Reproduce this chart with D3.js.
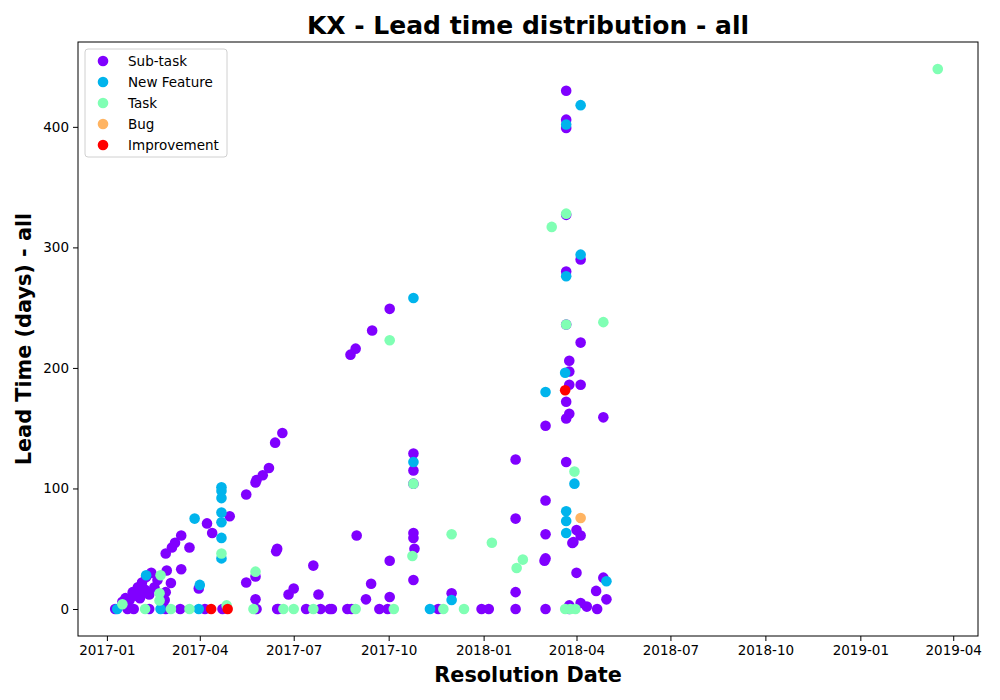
<!DOCTYPE html>
<html>
<head>
<meta charset="utf-8">
<script src="https://cdn.jsdelivr.net/npm/d3@7"></script>
<style>
  body { margin: 0; background: #fff; }
  text { font-family: "DejaVu Sans", sans-serif; }
</style>
</head>
<body>
<div id="chart"></div>
<script>
// issue types, drawn in this order
var categories = ["Sub-task", "New Feature", "Task", "Bug", "Improvement"];
var colors = ["#8000ff", "#00b4ec", "#80ffb4", "#ffb462", "#ff0000"];

// [resolution date, lead time in days]
var subTask = [
  ["2017-01-09", 0], ["2017-01-21", 0], ["2017-01-27", 0], ["2017-02-11", 0], ["2017-02-27", 0],
  ["2017-03-13", 0], ["2017-04-06", 0], ["2017-04-23", 0], ["2017-05-26", 0], ["2017-06-15", 0],
  ["2017-06-16", 0], ["2017-07-13", 0], ["2017-07-27", 0], ["2017-08-05", 0], ["2017-08-07", 0],
  ["2017-08-22", 0], ["2017-08-26", 0], ["2017-09-22", 0], ["2017-09-30", 0], ["2017-11-18", 0],
  ["2017-12-30", 0], ["2018-01-06", 0], ["2018-02-01", 0], ["2018-03-02", 0], ["2018-03-25", 0],
  ["2018-03-25", 3], ["2018-04-05", 5], ["2018-04-11", 2], ["2018-04-21", 0],
  ["2017-01-16", 6], ["2017-01-19", 9], ["2017-01-20", 3], ["2017-01-23", 7.5], ["2017-01-26", 14],
  ["2017-01-29", 11], ["2017-01-31", 18], ["2017-02-02", 9], ["2017-02-04", 22], ["2017-02-04", 13],
  ["2017-02-07", 16], ["2017-02-08", 26.5], ["2017-02-11", 12], ["2017-02-13", 30], ["2017-02-16", 18],
  ["2017-02-19", 24], ["2017-02-24", 3], ["2017-02-26", 7.5], ["2017-02-27", 46], ["2017-02-27", 14],
  ["2017-02-28", 32], ["2017-03-04", 21.6], ["2017-03-05", 51], ["2017-03-08", 55], ["2017-03-14", 61],
  ["2017-03-14", 33], ["2017-03-22", 51], ["2017-03-31", 17], ["2017-04-08", 71], ["2017-04-13", 63],
  ["2017-04-30", 77],
  ["2017-05-16", 95], ["2017-05-16", 22], ["2017-05-25", 105], ["2017-05-26", 107], ["2017-05-25", 27],
  ["2017-05-25", 8], ["2017-06-01", 111], ["2017-06-07", 117], ["2017-06-13", 138], ["2017-06-20", 146],
  ["2017-06-14", 48], ["2017-06-15", 50], ["2017-06-26", 12], ["2017-07-01", 17], ["2017-07-20", 36],
  ["2017-07-25", 12], ["2017-08-25", 211], ["2017-08-30", 216], ["2017-08-31", 61], ["2017-09-09", 8],
  ["2017-09-14", 21], ["2017-09-15", 231], ["2017-10-02", 249], ["2017-10-02", 40], ["2017-10-02", 10],
  ["2017-10-25", 129], ["2017-10-25", 115], ["2017-10-25", 104], ["2017-10-25", 63], ["2017-10-25", 59],
  ["2017-10-25", 24], ["2017-10-26", 50], ["2017-12-01", 13],
  ["2018-02-01", 124], ["2018-02-01", 75], ["2018-02-01", 14],
  ["2018-03-02", 152], ["2018-03-02", 90], ["2018-03-02", 62], ["2018-03-02", 42], ["2018-03-01", 40],
  ["2018-03-22", 430], ["2018-03-22", 406], ["2018-03-22", 399], ["2018-03-22", 327], ["2018-03-22", 280],
  ["2018-03-22", 236], ["2018-03-22", 172], ["2018-03-22", 158], ["2018-03-22", 122],
  ["2018-03-25", 206], ["2018-03-25", 197], ["2018-03-25", 186], ["2018-03-25", 162],
  ["2018-04-05", 290], ["2018-04-05", 221], ["2018-04-05", 186], ["2018-04-05", 61],
  ["2018-04-01", 65.5], ["2018-04-01", 30], ["2018-03-29", 55.5], ["2018-03-28", 54.7],
  ["2018-04-27", 159], ["2018-04-27", 26], ["2018-04-20", 15], ["2018-04-30", 8]
];

var newFeature = [
  ["2017-01-11", 0], ["2017-02-08", 28], ["2017-02-22", 0], ["2017-03-31", 0], ["2017-04-01", 20],
  ["2017-03-27", 75], ["2017-04-22", 101], ["2017-04-22", 98], ["2017-04-22", 92], ["2017-04-22", 80],
  ["2017-04-22", 72], ["2017-04-22", 59], ["2017-04-22", 42],
  ["2017-10-25", 258], ["2017-10-25", 122], ["2017-11-10", 0], ["2017-12-01", 7.5],
  ["2018-03-02", 180], ["2018-03-22", 402], ["2018-03-22", 276], ["2018-03-21", 196],
  ["2018-03-22", 81], ["2018-03-22", 73], ["2018-03-22", 63], ["2018-04-05", 418], ["2018-04-05", 294],
  ["2018-03-30", 104], ["2018-04-30", 23]
];

var task = [
  ["2017-01-16", 4], ["2017-02-07", 0], ["2017-02-22", 28], ["2017-02-21", 13], ["2017-02-21", 7],
  ["2017-03-04", 0], ["2017-03-22", 0], ["2017-04-22", 46], ["2017-04-27", 3], ["2017-05-23", 0],
  ["2017-05-25", 31], ["2017-06-21", 0], ["2017-07-01", 0], ["2017-07-20", 0], ["2017-08-30", 0],
  ["2017-10-02", 223], ["2017-10-06", 0], ["2017-10-25", 104], ["2017-10-24", 44], ["2017-11-23", 0],
  ["2017-12-01", 62], ["2017-12-13", 0], ["2018-01-09", 55], ["2018-02-08", 41], ["2018-02-02", 34],
  ["2018-03-08", 317], ["2018-03-22", 328], ["2018-03-22", 236], ["2018-03-30", 114], ["2018-04-27", 238],
  ["2018-03-21", 0], ["2018-03-26", 0], ["2018-03-31", 0], ["2019-03-17", 448]
];

var bug = [["2018-04-05", 75.5]];

var improvement = [["2017-04-12", 0], ["2017-04-28", 0], ["2018-03-21", 181.5]];

var series = [subTask, newFeature, task, bug, improvement];

var xTickDates = ["2017-01", "2017-04", "2017-07", "2017-10", "2018-01", "2018-04",
                  "2018-07", "2018-10", "2019-01", "2019-04"];
var yTicks = [0, 100, 200, 300, 400];

var svgWidth = 1000;
var svgHeight = 700;
var margin = { top: 42, right: 22, bottom: 64, left: 78 };
var chartWidth = svgWidth - margin.left - margin.right;
var chartHeight = svgHeight - margin.top - margin.bottom;

var parseDay = d3.timeParse("%Y-%m-%d");
var parseMonth = d3.timeParse("%Y-%m");

var svg = d3.select("#chart")
  .append("svg")
  .attr("width", svgWidth)
  .attr("height", svgHeight);

var chartGroup = svg.append("g")
  .attr("transform", `translate(${margin.left}, ${margin.top})`);

var xScale = d3.scaleTime()
  .domain([parseDay("2016-12-04"), parseDay("2019-04-25")])
  .range([0, chartWidth]);

var yScale = d3.scaleLinear()
  .domain([-22.4, 470.4])
  .range([chartHeight, 0]);

// axes
var xAxis = d3.axisBottom(xScale)
  .tickValues(xTickDates.map(parseMonth))
  .tickFormat(d3.timeFormat("%Y-%m"))
  .tickSize(5)
  .tickPadding(4);

var yAxis = d3.axisLeft(yScale)
  .tickValues(yTicks)
  .tickSize(5)
  .tickPadding(4);

var gx = chartGroup.append("g")
  .attr("transform", `translate(0, ${chartHeight})`)
  .call(xAxis);

var gy = chartGroup.append("g")
  .call(yAxis);

[gx, gy].forEach(g => {
  g.select(".domain").remove();
  g.selectAll("text").attr("font-size", 13.5).attr("fill", "#000").style("font-family", "DejaVu Sans, sans-serif");
  g.selectAll("line").attr("stroke", "#000");
});

// points
series.forEach((data, i) => {
  chartGroup.append("g")
    .selectAll("circle")
    .data(data)
    .enter()
    .append("circle")
    .attr("cx", d => xScale(parseDay(d[0])))
    .attr("cy", d => yScale(d[1]))
    .attr("r", 5.3)
    .attr("fill", colors[i]);
});

// frame
chartGroup.append("rect")
  .attr("width", chartWidth)
  .attr("height", chartHeight)
  .attr("fill", "none")
  .attr("stroke", "#000")
  .attr("stroke-width", 1);

// legend
var legend = chartGroup.append("g")
  .attr("transform", "translate(7, 7)");

legend.append("rect")
  .attr("width", 142)
  .attr("height", 108)
  .attr("rx", 3)
  .attr("fill", "#fff")
  .attr("fill-opacity", 0.8)
  .attr("stroke", "#d0d0d0");

categories.forEach((c, i) => {
  legend.append("circle")
    .attr("cx", 18)
    .attr("cy", 12 + i * 21)
    .attr("r", 5.3)
    .attr("fill", colors[i]);
  legend.append("text")
    .attr("x", 43)
    .attr("y", 12 + i * 21)
    .attr("dy", "0.35em")
    .attr("font-size", 13.5)
    .text(c);
});

// titles
svg.append("text")
  .attr("x", margin.left + chartWidth / 2)
  .attr("y", 34)
  .attr("text-anchor", "middle")
  .attr("font-size", 25)
  .attr("font-weight", "bold")
  .text("KX - Lead time distribution - all");

svg.append("text")
  .attr("x", margin.left + chartWidth / 2)
  .attr("y", 682)
  .attr("text-anchor", "middle")
  .attr("font-size", 20.8)
  .attr("font-weight", "bold")
  .text("Resolution Date");

svg.append("text")
  .attr("transform", `translate(31, ${margin.top + chartHeight / 2}) rotate(-90)`)
  .attr("text-anchor", "middle")
  .attr("font-size", 20.8)
  .attr("font-weight", "bold")
  .text("Lead Time (days) - all");
</script>
</body>
</html>
